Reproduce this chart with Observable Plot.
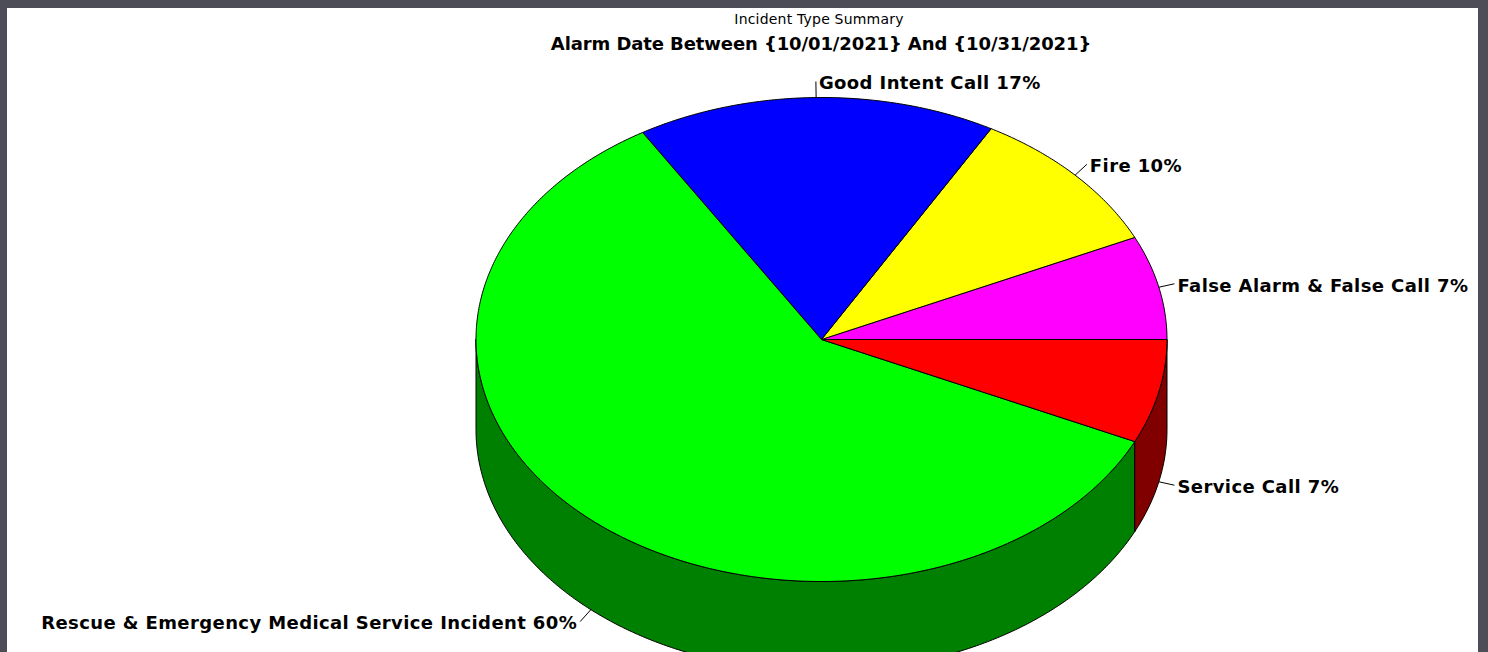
<!DOCTYPE html>
<html><head><meta charset="utf-8">
<script src="https://cdn.jsdelivr.net/npm/d3@7"></script>
<script src="https://cdn.jsdelivr.net/npm/@observablehq/plot@0.6"></script>
<style>
html,body{margin:0;padding:0;background:#4d4d57;width:1488px;height:652px;overflow:hidden}
#panel{position:absolute;left:7px;top:8px;width:1471px;height:644px;background:#fff;overflow:hidden}
#title{position:absolute;left:412px;width:800px;top:3px;text-align:center;font:14px "DejaVu Sans",sans-serif;letter-spacing:0.2px;color:#000;line-height:16px}
#subtitle{position:absolute;left:414px;width:800px;top:25px;text-align:center;font:bold 18px "DejaVu Sans",sans-serif;color:#000;line-height:22px;letter-spacing:-0.1px}
#chart{position:absolute;left:0;top:52px}
#chart svg text{letter-spacing:0.4px}
</style></head>
<body>
<div id="panel">
  <div id="title">Incident Type Summary</div>
  <div id="subtitle">Alarm Date Between {10/01/2021} And {10/31/2021}</div>
  <div id="chart"></div>
</div>
<script>
const categories = ["False Alarm & False Call", "Fire", "Good Intent Call", "Rescue & Emergency Medical Service Incident", "Service Call"];
const percents = [7, 10, 17, 60, 7];
const topColors = ["#ff00ff", "#ffff00", "#0000ff", "#00ff00", "#ff0000"];
const sideColors = ["#800080", "#808000", "#000080", "#008000", "#800000"];

// layout (pixels)
const W = 1471, H = 592, cx = 814, cy = 279, rx = 345.5, ry = 242, depth = 90;
const depthU = depth / ry;

const total = d3.sum(percents);
let acc = 0;
const slices = categories.map((c, i) => {
  const a0 = acc / total * 360; acc += percents[i]; const a1 = acc / total * 360;
  return {i, c, a0, a1, top: topColors[i], side: sideColors[i]};
});
const rad = d => d * Math.PI / 180;
const arc = (a0, a1, dyU = 0) => {
  const n = Math.max(2, Math.ceil((a1 - a0) / 0.5));
  return d3.range(n + 1).map(k => { const t = rad(a0 + (a1 - a0) * k / n); return {x: Math.cos(t), y: Math.sin(t) - dyU}; });
};
const topPts = slices.flatMap(s => [{x: 0, y: 0}, ...arc(s.a0, s.a1), {x: 0, y: 0}].map(p => ({...p, key: "t" + s.i, color: s.top})));
const wallPts = slices.flatMap(s => {
  const lo = Math.max(s.a0, 180), hi = Math.min(s.a1, 360);
  if (hi <= lo) return [];
  const up = arc(lo, hi), down = arc(lo, hi, depthU).reverse();
  return [...up, ...down, up[0]].map(p => ({...p, key: "w" + s.i, color: s.side}));
});
const labels = slices.map(s => {
  const m = rad((s.a0 + s.a1) / 2);
  const c = Math.cos(m), sn = Math.sin(m);
  const front = sn < 0;
  const px = c, py = sn - (front ? depthU : 0);
  const L = 16;
  const ex = px + L * c / rx, ey = py + L * sn / ry;
  const side = c > 0.2 ? 1 : c < -0.2 ? -1 : 0;
  const tx = ex + (side >= 0 ? 3 : -3) / rx;
  const ty = ey - 2 / ry;
  return {px, py, ex, ey, tx, ty, side, text: `${s.c} ${percents[s.i]}%`};
});

const font = {fontSize: 18, fontWeight: "bold", fontFamily: "DejaVu Sans", fill: "black"};
const chart = Plot.plot({
  width: W, height: H, margin: 0,
  x: {domain: [-1, 1], range: [cx - rx, cx + rx], axis: null},
  y: {domain: [-1, 1], range: [cy + ry, cy - ry], axis: null},
  color: {type: "identity"},
  style: {background: "white"},
  marks: [
    Plot.line(wallPts, {x: "x", y: "y", z: "key", fill: "color", stroke: "black", strokeWidth: 1, curve: "linear"}),
    Plot.line(topPts, {x: "x", y: "y", z: "key", fill: "color", stroke: "black", strokeWidth: 1, curve: "linear"}),
    Plot.link(labels, {x1: "px", y1: "py", x2: "ex", y2: "ey", stroke: "black", strokeWidth: 1}),
    Plot.text(labels.filter(d => d.side >= 0), {x: "tx", y: "ty", text: "text", textAnchor: "start", ...font}),
    Plot.text(labels.filter(d => d.side < 0), {x: "tx", y: "ty", text: "text", textAnchor: "end", ...font})
  ]
});
document.getElementById("chart").appendChild(chart);
</script>
</body></html>
